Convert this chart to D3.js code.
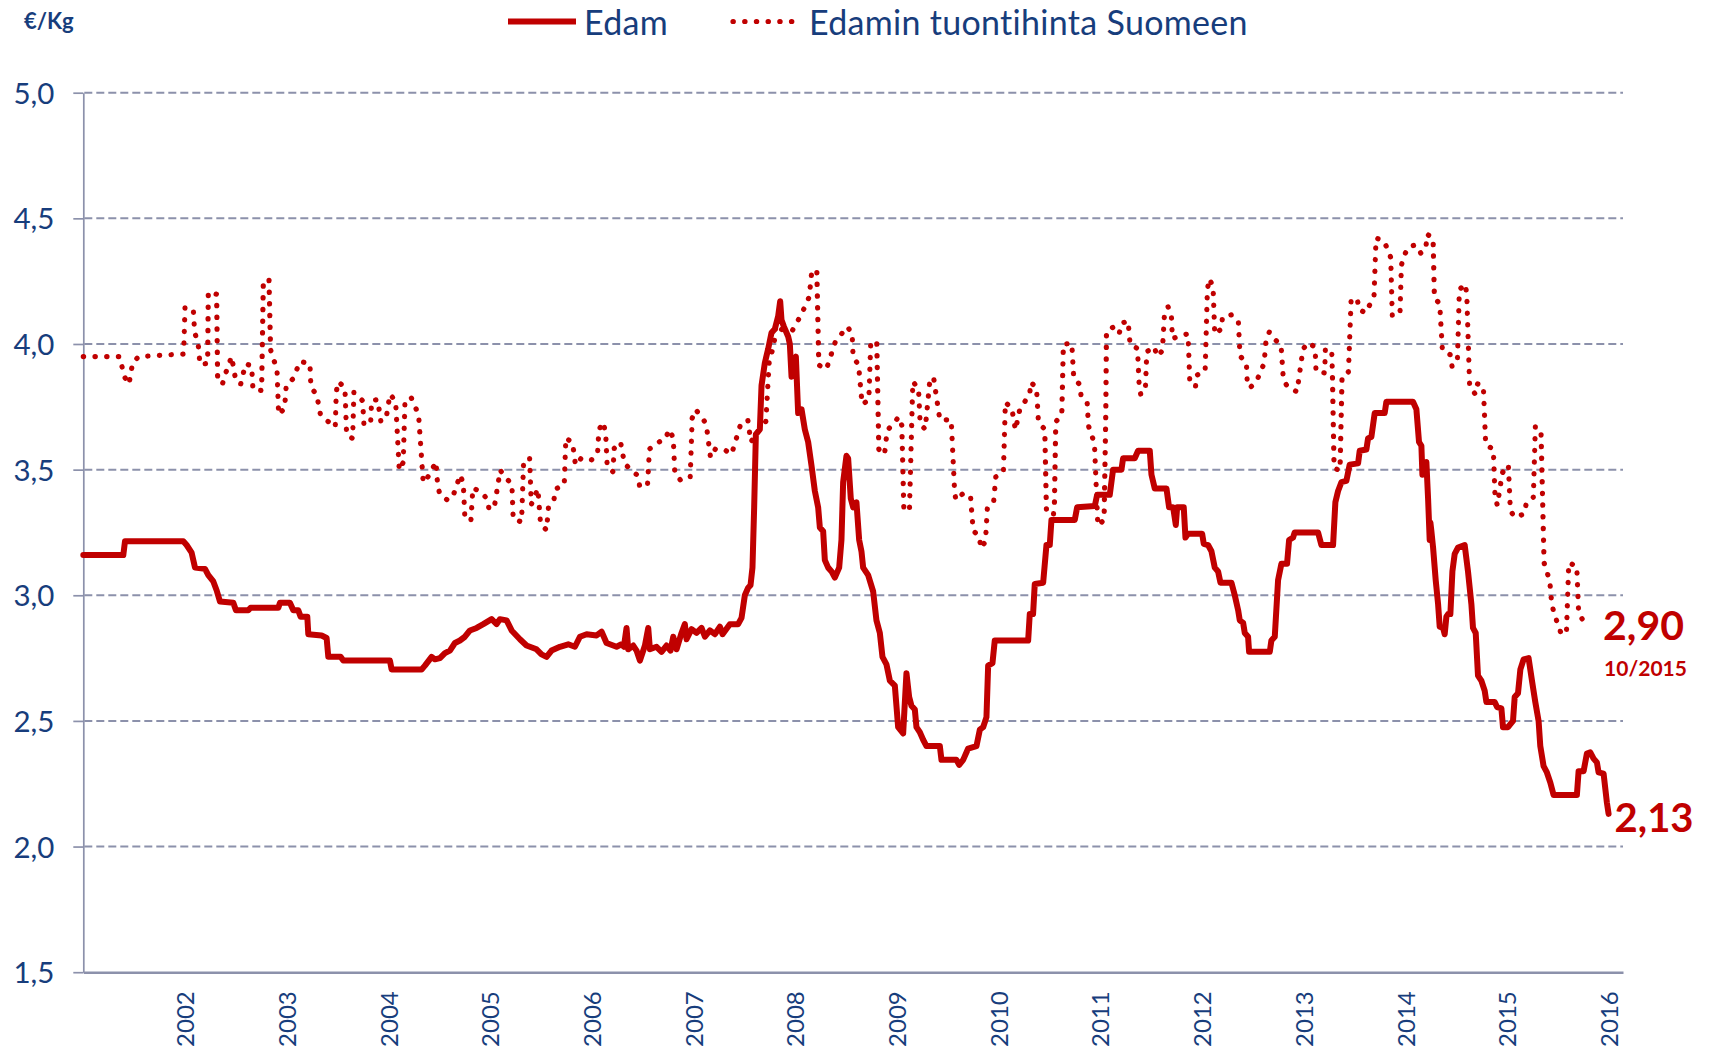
<!DOCTYPE html>
<html><head><meta charset="utf-8">
<script src="https://cdn.jsdelivr.net/npm/d3@7"></script>
<style>
html,body{margin:0;padding:0;background:#fff;}
svg{display:block;font-family:Lato,"Open Sans",sans-serif;}
</style></head><body>
<svg id="chart" width="1711" height="1049"></svg>
<script>
// ---- data (time = months since January 2001, value = €/kg) ----
const yTicks = [1.5, 2.0, 2.5, 3.0, 3.5, 4.0, 4.5, 5.0];
const yearTicks = [2002,2003,2004,2005,2006,2007,2008,2009,2010,2011,2012,2013,2014,2015,2016];
const seriesNames = ["Edam", "Edamin tuontihinta Suomeen"];
const unitLabel = "€/Kg";
const lastImportLabel = "2,90";
const lastImportDate = "10/2015";
const lastEdamLabel = "2,13";

const edamPoints = [[0,3.16],[4.72,3.16],[4.92,3.215],[11.8,3.215],[12.19,3.2],[12.78,3.17],[13.18,3.11],[14.36,3.105],[14.75,3.08],[15.34,3.055],[15.73,3.02],[16.13,2.975],[17.7,2.97],[18.01,2.94],[19.47,2.94],[19.74,2.95],[23.01,2.95],[23.2,2.97],[24.38,2.97],[24.78,2.94],[25.37,2.94],[25.64,2.915],[26.43,2.915],[26.55,2.845],[28.12,2.84],[28.71,2.83],[28.91,2.755],[30.36,2.755],[30.68,2.74],[36.18,2.74],[36.38,2.705],[39.92,2.705],[40.31,2.72],[41.1,2.755],[41.49,2.745],[42.08,2.75],[42.67,2.77],[43.26,2.78],[43.85,2.81],[44.44,2.82],[45.03,2.835],[45.62,2.86],[46.41,2.87],[47.2,2.885],[48.18,2.905],[48.77,2.885],[49.16,2.905],[49.95,2.9],[50.54,2.86],[51.52,2.825],[52.3,2.8],[53.09,2.79],[53.48,2.785],[54.07,2.765],[54.66,2.755],[55.25,2.78],[56.24,2.795],[57.22,2.805],[58.01,2.795],[58.6,2.835],[59.39,2.845],[60.57,2.84],[61.16,2.855],[61.74,2.81],[62.92,2.795],[63.51,2.805],[63.79,2.795],[64.1,2.87],[64.3,2.785],[64.89,2.8],[65.28,2.78],[65.68,2.74],[66.27,2.8],[66.66,2.87],[66.86,2.785],[67.64,2.795],[68.23,2.775],[68.82,2.8],[69.29,2.78],[69.61,2.835],[70,2.785],[70.59,2.85],[70.98,2.885],[71.18,2.825],[71.77,2.865],[72.36,2.85],[72.95,2.87],[73.35,2.835],[73.94,2.86],[74.52,2.845],[75.12,2.875],[75.43,2.845],[76.29,2.885],[77.27,2.885],[77.67,2.91],[78.06,3.0],[78.45,3.03],[78.73,3.04],[78.96,3.11],[79.16,3.35],[79.36,3.64],[79.83,3.66],[80.03,3.835],[80.42,3.925],[80.81,3.98],[81.21,4.045],[81.6,4.06],[81.99,4.11],[82.23,4.17],[82.39,4.095],[82.66,4.07],[83.17,4.03],[83.37,4.0],[83.57,3.87],[83.76,3.93],[84.08,3.95],[84.35,3.725],[84.75,3.74],[85.14,3.66],[85.53,3.61],[85.93,3.515],[86.32,3.415],[86.71,3.35],[86.91,3.27],[87.3,3.255],[87.5,3.14],[87.89,3.11],[88.29,3.095],[88.68,3.07],[89.19,3.11],[89.46,3.22],[89.66,3.45],[90.05,3.555],[90.25,3.545],[90.56,3.385],[90.84,3.35],[91.23,3.37],[91.55,3.22],[91.82,3.175],[92.02,3.11],[92.61,3.08],[93.2,3.015],[93.59,2.9],[93.99,2.85],[94.3,2.755],[94.77,2.725],[95.17,2.66],[95.76,2.64],[96.15,2.475],[96.74,2.45],[97.13,2.69],[97.45,2.595],[97.72,2.56],[98.12,2.545],[98.31,2.475],[98.71,2.455],[99.1,2.425],[99.49,2.4],[101.07,2.4],[101.26,2.345],[103.03,2.345],[103.35,2.325],[103.82,2.345],[104.41,2.39],[105.39,2.4],[105.79,2.465],[106.18,2.475],[106.57,2.515],[106.77,2.72],[107.28,2.73],[107.55,2.82],[111.49,2.82],[111.68,2.925],[112.07,2.925],[112.27,3.045],[113.26,3.05],[113.65,3.2],[114.04,3.2],[114.24,3.3],[116.99,3.3],[117.27,3.35],[119.35,3.355],[119.63,3.4],[121.12,3.4],[121.51,3.5],[122.5,3.5],[122.69,3.545],[124.07,3.545],[124.46,3.575],[125.84,3.575],[126.04,3.48],[126.43,3.425],[127.81,3.425],[128.12,3.35],[128.6,3.35],[128.91,3.28],[129.07,3.35],[129.85,3.35],[130.05,3.23],[130.36,3.245],[132.02,3.245],[132.21,3.205],[132.72,3.2],[133.12,3.175],[133.51,3.11],[133.9,3.095],[134.18,3.05],[135.48,3.05],[135.87,3.0],[136.27,2.94],[136.46,2.9],[136.86,2.89],[137.05,2.85],[137.44,2.835],[137.56,2.775],[140,2.775],[140.19,2.82],[140.59,2.835],[140.98,3.06],[141.37,3.125],[142.04,3.125],[142.28,3.22],[142.75,3.23],[142.94,3.25],[145.7,3.25],[146.09,3.2],[147.47,3.2],[147.74,3.37],[148.06,3.415],[148.45,3.45],[149.04,3.455],[149.43,3.52],[150.42,3.525],[150.61,3.575],[151.4,3.58],[151.6,3.625],[151.99,3.63],[152.38,3.725],[153.56,3.725],[153.76,3.77],[156.9,3.77],[157.3,3.74],[157.61,3.61],[157.89,3.595],[158.01,3.48],[158.28,3.515],[158.48,3.53],[158.68,3.385],[158.87,3.22],[158.95,3.29],[159.07,3.255],[159.27,3.19],[159.58,3.06],[159.86,2.965],[160.05,2.875],[160.45,2.87],[160.64,2.845],[160.84,2.915],[161.04,2.925],[161.31,2.925],[161.55,3.095],[161.82,3.165],[162.22,3.19],[163,3.2],[163.39,3.095],[163.79,2.965],[163.98,2.87],[164.3,2.85],[164.57,2.68],[164.97,2.66],[165.36,2.62],[165.56,2.575],[166.54,2.575],[166.82,2.555],[167.33,2.55],[167.52,2.475],[168.11,2.475],[168.7,2.5],[168.9,2.595],[169.29,2.61],[169.57,2.705],[169.95,2.745],[170.54,2.75],[170.94,2.66],[171.33,2.575],[171.72,2.5],[171.92,2.4],[172.31,2.32],[172.7,2.295],[173.1,2.255],[173.49,2.205],[176.24,2.205],[176.44,2.3],[177.03,2.3],[177.42,2.37],[177.82,2.375],[178.21,2.35],[178.6,2.335],[178.8,2.295],[179.39,2.29],[179.78,2.175],[179.98,2.13]];

const importPoints = [[0,3.95],[4.29,3.95],[4.84,3.87],[5.39,3.84],[5.82,3.925],[6.53,3.95],[11.84,3.96],[12.0,4.145],[12.98,4.137],[13.14,4.044],[13.53,4.01],[13.77,3.918],[14.67,3.923],[14.75,4.207],[15.73,4.198],[15.85,3.871],[16.4,3.839],[16.75,3.879],[17.5,3.95],[17.93,3.866],[18.56,3.839],[19.15,3.921],[19.86,3.913],[20.02,3.818],[21.04,3.815],[21.24,4.239],[21.91,4.26],[22.1,3.977],[22.42,3.94],[22.85,3.905],[23.05,3.719],[23.75,3.744],[23.95,3.837],[24.7,3.86],[25.6,3.931],[26.74,3.921],[26.86,3.826],[27.53,3.8],[28.0,3.716],[28.87,3.692],[29.73,3.669],[29.85,3.81],[30.09,3.85],[30.87,3.826],[31.07,3.639],[31.78,3.624],[31.93,3.808],[32.96,3.774],[33.11,3.681],[33.9,3.681],[34.02,3.774],[34.73,3.779],[35.12,3.69],[35.79,3.716],[36.18,3.8],[36.85,3.773],[37.28,3.498],[37.75,3.529],[37.95,3.765],[38.66,3.789],[39.56,3.719],[40.11,3.448],[40.78,3.476],[41.61,3.531],[41.81,3.439],[42.08,3.4],[43.06,3.377],[43.73,3.405],[44.48,3.479],[44.84,3.444],[45.03,3.303],[45.74,3.3],[45.97,3.427],[47.0,3.41],[47.66,3.382],[47.9,3.339],[48.57,3.366],[49.2,3.498],[49.79,3.468],[50.57,3.444],[50.73,3.303],[51.71,3.292],[51.95,3.526],[52.66,3.548],[52.86,3.361],[53.64,3.424],[53.96,3.282],[54.66,3.26],[54.9,3.353],[55.53,3.379],[55.72,3.423],[56.75,3.439],[56.94,3.627],[57.73,3.606],[58.08,3.518],[58.79,3.547],[59.97,3.539],[60.68,3.563],[60.84,3.658],[61.31,3.689],[61.63,3.65],[61.82,3.511],[62.49,3.492],[62.65,3.585],[63.39,3.61],[63.86,3.524],[64.61,3.5],[65.44,3.476],[65.67,3.429],[66.58,3.442],[66.81,3.582],[67.64,3.606],[68.7,3.621],[69.1,3.66],[69.61,3.627],[69.8,3.485],[70.47,3.458],[71.61,3.469],[71.85,3.705],[72.24,3.739],[72.91,3.713],[73.5,3.681],[74.01,3.548],[74.57,3.581],[75.58,3.581],[76.49,3.561],[77.55,3.679],[78.41,3.698],[78.77,3.61],[79.75,3.658],[80.54,3.692],[80.93,3.927],[81.52,4.002],[81.72,4.077],[82.58,4.053],[83.69,4.055],[84.75,4.119],[85.65,4.187],[85.93,4.279],[86.55,4.297],[86.79,3.916],[87.69,3.9],[88.76,4.011],[90.17,4.069],[90.72,4.039],[90.84,3.945],[91.47,3.919],[91.9,3.76],[92.69,3.777],[92.92,4.011],[93.63,4.003],[93.87,3.581],[94.54,3.56],[94.85,3.655],[95.52,3.681],[96.23,3.71],[96.58,3.676],[96.82,3.347],[97.48,3.334],[97.88,3.85],[98.55,3.823],[98.75,3.682],[99.34,3.661],[99.85,3.84],[100.32,3.869],[101.07,3.698],[102.41,3.698],[102.8,3.421],[102.95,3.379],[103.74,3.403],[104.68,3.398],[105.0,3.258],[105.78,3.231],[105.86,3.187],[106.45,3.213],[106.69,3.355],[107.43,3.377],[107.67,3.471],[108.57,3.49],[108.8,3.768],[109.56,3.744],[109.99,3.658],[110.5,3.739],[111.05,3.768],[111.68,3.802],[111.8,3.848],[112.47,3.826],[112.71,3.687],[113.45,3.661],[113.65,3.334],[114.47,3.319],[114.59,3.366],[114.75,3.69],[115.46,3.719],[115.65,4.0],[116.64,4.002],[116.87,3.863],[117.58,3.839],[117.74,3.792],[118.45,3.768],[118.61,3.674],[118.96,3.639],[119.31,3.605],[119.71,3.277],[120.45,3.3],[120.65,3.723],[120.73,4.052],[121.48,4.066],[122.22,4.039],[122.5,4.082],[123.28,4.092],[123.52,3.998],[124.39,3.982],[124.58,3.842],[124.78,3.798],[125.33,3.827],[125.49,3.969],[126.35,3.989],[126.75,3.95],[127.33,3.974],[127.57,4.116],[128.0,4.148],[128.39,4.113],[128.51,4.021],[129.58,4.035],[130.36,4.04],[130.56,3.852],[131.23,3.829],[131.39,3.876],[132.37,3.89],[132.64,4.218],[132.88,4.26],[133.31,4.227],[133.51,4.039],[134.33,4.061],[134.41,4.108],[135.47,4.116],[136.29,4.092],[136.49,3.952],[137.24,3.926],[137.36,3.834],[137.71,3.827],[138.46,3.853],[139.33,3.923],[139.56,4.015],[139.95,4.048],[140.58,4.019],[141.33,3.995],[141.61,3.856],[142.16,3.827],[143.22,3.81],[143.38,3.85],[143.93,3.981],[144.64,4.006],[145.35,3.985],[145.46,3.89],[146.48,3.885],[146.56,3.979],[147.31,3.976],[147.39,3.881],[147.59,3.505],[148.29,3.497],[148.53,3.873],[149.28,3.889],[149.59,4.169],[150.3,4.184],[150.53,4.137],[151.32,4.124],[152.3,4.19],[152.54,4.421],[153.36,4.413],[153.88,4.381],[154.27,4.344],[154.46,4.11],[155.37,4.126],[155.53,4.313],[155.84,4.352],[156.4,4.387],[157.22,4.394],[157.85,4.36],[158.44,4.39],[158.56,4.437],[159.27,4.421],[159.43,4.182],[160.05,4.161],[160.37,3.974],[161.28,3.958],[161.51,3.91],[162.14,3.934],[162.37,4.216],[163.04,4.239],[163.24,4.202],[163.59,3.827],[164.22,3.802],[164.45,3.842],[165.2,3.832],[165.48,3.598],[166.38,3.582],[166.58,3.395],[166.85,3.358],[167.44,3.487],[168.15,3.519],[168.39,3.337],[168.9,3.31],[170.04,3.324],[170.28,3.369],[171.1,3.39],[171.34,3.673],[172.01,3.647],[172.37,3.129],[173.04,3.056],[173.27,2.965],[173.59,2.924],[174.3,2.855],[175.0,2.845],[175.28,3.129],[176.22,3.116],[176.45,2.927],[176.97,2.9]];

// ---- styles ----
const RED = "#c00000";
const BLUE = "#173d7c";
const GREY = "#8c91ab";
const DOTS = "0.3 11.4";

const svg = d3.select("#chart");
svg.append("rect").attr("width",1711).attr("height",1049).attr("fill","#fff");

const x = d3.scaleLinear().domain([0, 181.68]).range([83.3, 1623]);
const y = d3.scaleLinear().domain([1.5, 5]).range([972.2, 92.7]);

// gridlines
svg.append("g").selectAll("line")
  .data(yTicks.filter(d => d > 1.5))
  .join("line")
  .attr("x1", x(0) + 1).attr("x2", x.range()[1])
  .attr("y1", d => y(d)).attr("y2", d => y(d))
  .attr("stroke", GREY).attr("stroke-width", 2)
  .attr("stroke-dasharray", "8 4");

// y axis
const yAxis = svg.append("g")
  .attr("transform", `translate(${x(0)},0)`)
  .call(d3.axisLeft(y).tickValues(yTicks).tickSize(10).tickSizeOuter(0).tickPadding(19)
    .tickFormat(d => d.toFixed(1).replace(".", ",")));
yAxis.select(".domain").attr("stroke", GREY).attr("stroke-width", 1.7);
yAxis.selectAll(".tick line").attr("stroke", GREY).attr("stroke-width", 1.7);
yAxis.selectAll(".tick text").attr("fill", BLUE).attr("font-size", 29.5)
  .attr("font-family", "Lato").attr("dy", "0.36em");

// x axis
const xAxis = svg.append("g")
  .attr("transform", `translate(0,${y(1.5)})`)
  .call(d3.axisBottom(x).tickValues(yearTicks.map(v => (v - 2001) * 12))
    .tickSize(0).tickSizeOuter(0).tickFormat(m => String(2001 + m / 12)));
xAxis.select(".domain").attr("stroke", GREY).attr("stroke-width", 2.6);
xAxis.selectAll(".tick text")
  .attr("fill", BLUE).attr("font-size", 24).attr("font-family", "Lato")
  .attr("transform", "rotate(-90)")
  .attr("text-anchor", "end")
  .attr("x", -19).attr("y", 0).attr("dy", "0.36em");

// series
const line = d3.line().x(d => x(d[0])).y(d => y(d[1]));
svg.append("path").datum(edamPoints)
  .attr("d", line).attr("fill", "none")
  .attr("stroke", RED).attr("stroke-width", 6)
  .attr("stroke-linejoin", "round").attr("stroke-linecap", "round");
svg.append("path").datum(importPoints)
  .attr("d", line).attr("fill", "none")
  .attr("stroke", RED).attr("stroke-width", 5.2)
  .attr("stroke-dasharray", DOTS)
  .attr("stroke-linejoin", "round").attr("stroke-linecap", "round");

// end labels
const lastImp = importPoints[importPoints.length - 1];
const lastEd = edamPoints[edamPoints.length - 1];
svg.append("text").attr("x", x(lastImp[0]) + 20).attr("y", y(lastImp[1]) + 20)
  .attr("fill", RED).attr("font-weight", 700).attr("font-size", 41).text(lastImportLabel);
svg.append("text").attr("x", x(lastImp[0]) + 21).attr("y", y(lastImp[1]) + 56)
  .attr("fill", RED).attr("font-weight", 700).attr("font-size", 21).text(lastImportDate);
svg.append("text").attr("x", x(lastEd[0]) + 6).attr("y", y(lastEd[1]) + 18)
  .attr("fill", RED).attr("font-weight", 700).attr("font-size", 40).text(lastEdamLabel);

// unit label
svg.append("text").attr("x", 24).attr("y", 29)
  .attr("fill", BLUE).attr("font-weight", 700).attr("font-size", 22).text(unitLabel);

// legend
const lg = svg.append("g");
lg.append("line").attr("x1", 508).attr("x2", 576).attr("y1", 21.5).attr("y2", 21.5)
  .attr("stroke", RED).attr("stroke-width", 6);
lg.append("text").attr("x", 584).attr("y", 34.5).attr("fill", BLUE)
  .attr("font-size", 34).attr("letter-spacing", 0.3).text(seriesNames[0]);
lg.append("line").attr("x1", 733).attr("x2", 795).attr("y1", 21.5).attr("y2", 21.5)
  .attr("stroke", RED).attr("stroke-width", 5.2)
  .attr("stroke-dasharray", DOTS).attr("stroke-linecap", "round");
lg.append("text").attr("x", 809).attr("y", 34.5).attr("fill", BLUE)
  .attr("font-size", 34).attr("letter-spacing", 0.3).text(seriesNames[1]);
</script>
</body></html>
